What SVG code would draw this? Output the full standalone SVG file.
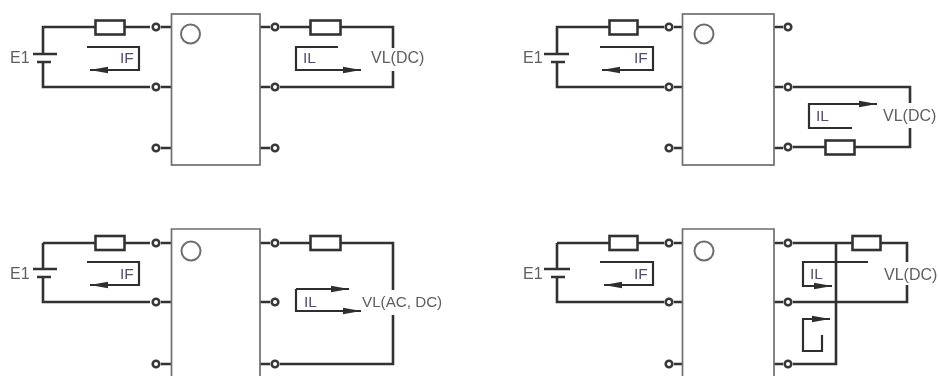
<svg xmlns="http://www.w3.org/2000/svg" width="938" height="376" viewBox="0 0 938 376">
<style>
.w{fill:none;stroke:#333;stroke-width:2.6}
.b{fill:#fff;stroke:#6e6e6e;stroke-width:1.7}
.r{fill:#fff;stroke:#333;stroke-width:2.6}
.c{fill:#fff;stroke:#383838;stroke-width:2.6}
.o{fill:#fff;stroke:#6e6e6e;stroke-width:2}
.a{fill:none;stroke:#2e2e2e;stroke-width:2.2}
text{font-family:"Liberation Sans",Arial,sans-serif;font-size:16px;fill:#5e5e5e;dominant-baseline:middle}
.i{fill:#574e6e;font-size:15.500px}
</style>
<defs>
<filter id="soft" x="-2%" y="-2%" width="104%" height="104%"><feGaussianBlur stdDeviation="0.5"/></filter>
<marker id="ah" markerUnits="userSpaceOnUse" markerWidth="20" markerHeight="10" refX="18" refY="5" orient="auto"><path d="M0 1.8 L18 5 L0 8.200Z" fill="#2e2e2e"/></marker>
<circle id="term" r="3.300" class="c"/>
</defs>
<g filter="url(#soft)">
<g id="connectors">
<path class="w" d="M43 54V27H95M125 27H150M43 62V87H150M161 27H172M161 87H172"/>
<path class="w" d="M260 27H270M280 27H310M340 27H393V48M393 71V87H280M260 87H270"/>
<path class="w" d="M161 148H172M260 148H270"/>
<path class="a" d="M87 47H139V70H90" marker-end="url(#ah)"/>
<path class="a" d="M338 47H296V70H361" marker-end="url(#ah)"/>

<path class="w" d="M557 54V27H609M637 27H664M557 62V87H664M674 27H683M674 87H683"/>
<path class="w" d="M774 27H783M774 87H783M793 87H910V103M910 128V147H854M825 147H793M774 148H783M674 148H683"/>
<path class="a" d="M600 47H653V70H602" marker-end="url(#ah)"/>
<path class="a" d="M852 128H809V104H877" marker-end="url(#ah)"/>

<path class="w" d="M43 243V269M43 277V302H150M43 243H95M125 243H150M161 243H172M161 302H172M161 364H172"/>
<path class="w" d="M260 243H270M280 243H310M340 243H393V290M393 315V364H280M260 364H270M260 302H270"/>
<path class="a" d="M87 262H139V285H90" marker-end="url(#ah)"/>
<path class="a" d="M296 289V311H361" marker-end="url(#ah)"/>
<path class="a" d="M296 289H349" marker-end="url(#ah)"/>

<path class="w" d="M557 243V269M557 277V302H664M557 243H609M637 243H664M674 243H683M674 302H683M674 364H683"/>
<path class="w" d="M774 243H783M793 243H852M880 243H907V262M907 285V302H793M774 302H783M774 364H783M793 364H836V243"/>
<path class="a" d="M600 262H653V285H604" marker-end="url(#ah)"/>
<path class="a" d="M868 262H803V286H832" marker-end="url(#ah)"/>
<path class="a" d="M822 335V351H803V319H830" marker-end="url(#ah)"/>
</g>

<g id="panel-a">
<g id="a-box"><rect class="b" x="171.500" y="14" width="88.500" height="151"/><circle class="o" cx="190.500" cy="34" r="9.500"/></g>
<g id="a-battery"><path class="w" d="M33 54H57M37 62H51"/><text x="10" y="59">E1</text></g>
<g id="a-r1"><rect class="r" x="95.500" y="20.500" width="29" height="14"/></g>
<g id="a-r2"><rect class="r" x="310.500" y="20.500" width="30" height="14"/></g>
<g id="a-terms"><use href="#term" x="156" y="27"/><use href="#term" x="156" y="87"/><use href="#term" x="156" y="148"/><use href="#term" x="275" y="27"/><use href="#term" x="275" y="87"/><use href="#term" x="275" y="148"/></g>
<g id="a-labels"><text class="i" x="120" y="59">IF</text><text class="i" x="303" y="59">IL</text><text x="371" y="59">VL(DC)</text></g>
</g>

<g id="panel-b">
<g id="b-box"><rect class="b" x="682.500" y="14" width="91.500" height="151"/><circle class="o" cx="704" cy="34" r="9.500"/></g>
<g id="b-battery"><path class="w" d="M544 54H569M551 62H565"/><text x="523" y="59">E1</text></g>
<g id="b-r1"><rect class="r" x="609.500" y="20.500" width="28" height="14"/></g>
<g id="b-r2"><rect class="r" x="825.500" y="140.500" width="29" height="14"/></g>
<g id="b-terms"><use href="#term" x="669" y="27"/><use href="#term" x="669" y="87"/><use href="#term" x="669" y="148"/><use href="#term" x="788" y="27"/><use href="#term" x="788" y="87"/><use href="#term" x="788" y="147"/></g>
<g id="b-labels"><text class="i" x="634" y="59">IF</text><text class="i" x="816" y="117">IL</text><text x="883" y="117">VL(DC)</text></g>
</g>

<g id="panel-c">
<g id="c-box"><path class="b" d="M171.500 377V229H260V377"/><circle class="o" cx="191" cy="251" r="9.500"/></g>
<g id="c-battery"><path class="w" d="M33 269H57M37 277H51"/><text x="10" y="275">E1</text></g>
<g id="c-r1"><rect class="r" x="95.500" y="236" width="29" height="14"/></g>
<g id="c-r2"><rect class="r" x="310.500" y="236" width="30" height="14"/></g>
<g id="c-terms"><use href="#term" x="156" y="243"/><use href="#term" x="156" y="302"/><use href="#term" x="156" y="364"/><use href="#term" x="275" y="243"/><use href="#term" x="275" y="302"/><use href="#term" x="275" y="364"/></g>
<g id="c-labels"><text class="i" x="120" y="275">IF</text><text class="i" x="304" y="303">IL</text><text x="362" y="303" style="font-size:15.200px">VL(AC, DC)</text></g>
</g>

<g id="panel-d">
<g id="d-box"><path class="b" d="M682.500 377V229H774V377"/><circle class="o" cx="704" cy="251" r="9.500"/></g>
<g id="d-battery"><path class="w" d="M544 269H570M551 277H565"/><text x="523" y="275">E1</text></g>
<g id="d-r1"><rect class="r" x="609.500" y="236" width="28" height="14"/></g>
<g id="d-r2"><rect class="r" x="852.500" y="236" width="28" height="14"/></g>
<g id="d-terms"><use href="#term" x="669" y="243"/><use href="#term" x="669" y="302"/><use href="#term" x="669" y="364"/><use href="#term" x="788" y="243"/><use href="#term" x="788" y="302"/><use href="#term" x="788" y="364"/></g>
<g id="d-labels"><text class="i" x="634" y="275">IF</text><text class="i" x="810" y="275">IL</text><text x="884" y="276">VL(DC)</text></g>
</g>
</g>
</svg>
